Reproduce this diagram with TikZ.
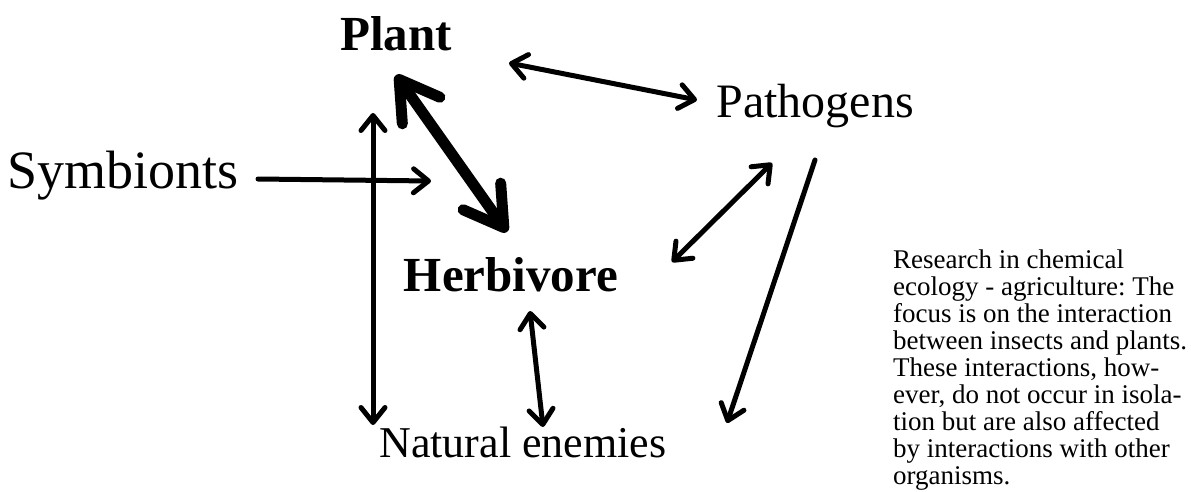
\documentclass[tikz,border=0pt]{standalone}
\usepackage{fontspec}
\setmainfont{Liberation Serif}
\usetikzlibrary{arrows.meta}
\begin{document}
\frenchspacing
\begin{tikzpicture}[x=1pt,y=-1pt,
  lbl/.style={anchor=base, inner sep=0pt, font=\fontsize{48}{52}\selectfont},
  blbl/.style={anchor=base, inner sep=0pt, font=\fontsize{49}{54}\selectfont\bfseries},
  thinarr/.style={line width=5pt, line cap=round, line join=round,
    >={Straight Barb[length=15pt,width=24pt,round]}},
  thickarr/.style={line width=11pt, line cap=round, line join=round,
    >={Straight Barb[length=38pt,width=46pt,round]}},
]
\useasboundingbox (0,0) rectangle (1191,491);
\node[blbl] (plant) at (396,50) {Plant};
\node[blbl] (herb) at (511,291) {Herbivore};
\node[lbl] (path) at (815,117) {Pathogens};
\node[lbl, font=\fontsize{54}{58}\selectfont] (symb) at (123,188) {Symbionts};
\node[lbl, font=\fontsize{44}{48}\selectfont] (nat) at (523,457) {Natural enemies};
\node[anchor=north west, inner sep=0pt, align=left,
      font=\fontsize{27}{27}\selectfont] (note) at (893,250)
  {Research in chemical\\ecology - agriculture: The\\focus is on the interaction\\between insects and plants.\\These interactions, how-\\ever, do not occur in isola-\\tion but are also affected\\by interactions with other\\organisms.};
% arrow end points
\coordinate (pA) at (396,75);
\coordinate (hA) at (507,232);
\coordinate (pB) at (509,63);
\coordinate (gB) at (697,100);
\coordinate (sC) at (258,179);
\coordinate (sCe) at (431,181);
\coordinate (vT) at (373,113);
\coordinate (vB) at (373,425);
\coordinate (hE) at (530,311);
\coordinate (nE) at (543,427);
\coordinate (gH) at (772,163);
\coordinate (hH) at (672,262);
\coordinate (gN) at (815,160);
\coordinate (nN) at (727,423);
% connectors
\draw[thickarr,<->] (pA) -- (hA);
\draw[thinarr,<->] (pB) -- (gB);
\draw[thinarr,->] (sC) -- (sCe);
\draw[thinarr,<->] (vT) -- (vB);
\draw[thinarr,<->] (hE) -- (nE);
\draw[thinarr,<->] (gH) -- (hH);
\draw[thinarr,->] (gN) -- (nN);
\end{tikzpicture}
\end{document}
